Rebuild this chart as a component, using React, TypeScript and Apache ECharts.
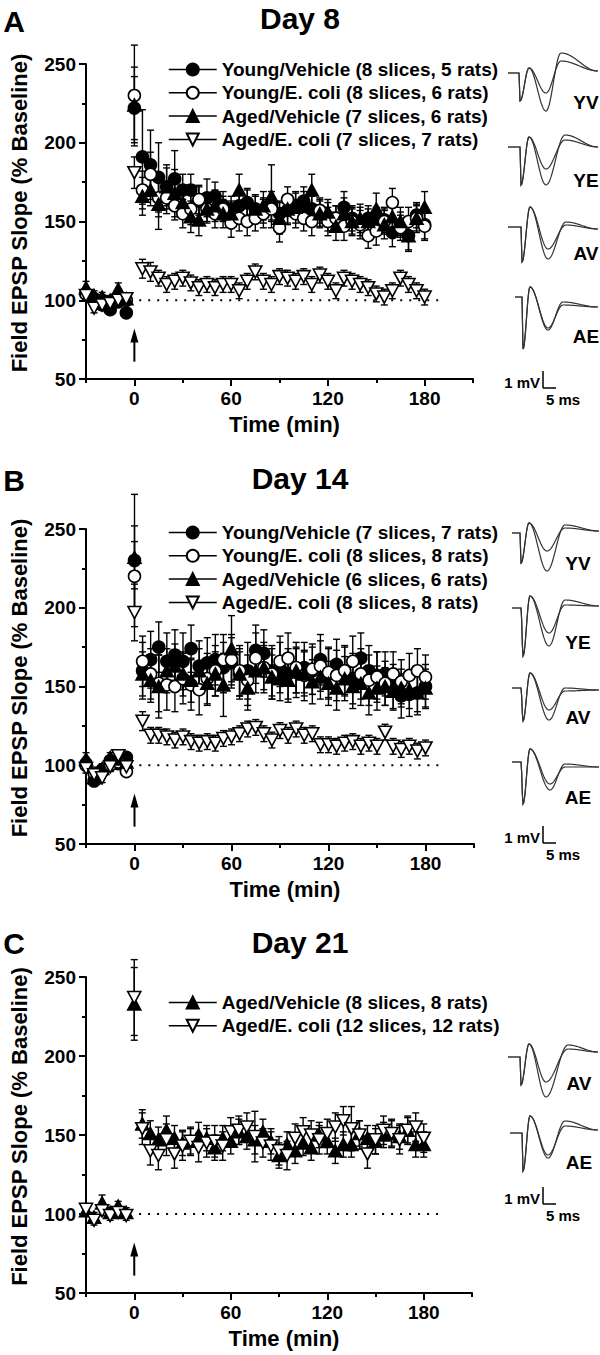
import React, { useEffect, useRef } from "react";
import * as echarts from "echarts";

const FONT = '"Liberation Sans", Arial, Helvetica, sans-serif';

// ---------- DATA ----------
const TIME = [
  -30, -25, -20, -15, -10, -5, 0, 5, 10, 15, 20, 25, 30, 35, 40, 45, 50, 55, 60, 65, 70,
  75, 80, 85, 90, 95, 100, 105, 110, 115, 120, 125, 130, 135, 140, 145, 150, 155, 160,
  165, 170, 175, 180,
];
const X_LABELS = [0, 60, 120, 180];

// Panel A — Day 8
const A_NAMES = [
  "Young/Vehicle (8 slices, 5 rats)",
  "Young/E. coli (8 slices, 6 rats)",
  "Aged/Vehicle (7 slices, 6 rats)",
  "Aged/E. coli (7 slices, 7 rats)",
];
const A_YV = [104, 100, 97, 94, 99, 92, 222,
  191, 186, 178, 172, 177, 170, 170, 163, 165, 166,
  160, 158, 160, 162, 158, 157, 160, 155, 157, 160,
  163, 158, 155, 153, 152, 159, 152, 150, 152, 150,
  151, 143, 148, 141, 154, 148];
const A_YV_SEM = [4, 3, 3, 3, 3, 3, 20,
  30, 22, 22, 14, 18, 10, 10, 9, 12, 9,
  9, 8, 10, 8, 9, 8, 9, 8, 9, 8,
  9, 8, 8, 9, 8, 10, 8, 9, 8, 9,
  8, 9, 8, 9, 8, 9];
const A_YE = [104, 101, 100, 99, 100, 100, 230,
  170, 180, 165, 165, 160, 155, 158, 164, 158, 155,
  158, 149, 152, 150, 152, 155, 158, 146, 164, 155,
  152, 150, 157, 150, 152, 147, 150, 148, 141, 144,
  150, 162, 146, 150, 152, 147];
const A_YE_SEM = [3, 3, 3, 3, 3, 3, 32,
  12, 14, 12, 10, 9, 9, 10, 9, 8, 9,
  8, 9, 8, 9, 8, 9, 8, 9, 8, 9,
  8, 9, 8, 9, 8, 9, 8, 9, 8, 9,
  8, 9, 8, 9, 8, 9];
const A_AV = [108, 103, 102, 100, 107, 101, 224,
  166, 170, 161, 172, 168, 162, 153, 151, 158, 160,
  155, 155, 170, 162, 158, 160, 166, 152, 158, 159,
  160, 170, 155, 156, 147, 155, 150, 152, 150, 158,
  148, 153, 150, 141, 152, 159];
const A_AV_SEM = [4, 3, 3, 3, 4, 3, 24,
  12, 10, 16, 12, 15, 10, 10, 10, 9, 10,
  9, 8, 10, 9, 8, 9, 20, 10, 9, 10,
  9, 10, 9, 8, 9, 10, 9, 9, 8, 10,
  9, 10, 9, 10, 9, 10];
const A_AE = [103, 95, 97, 98, 100, 101, 181,
  120, 118, 114, 110, 112, 114, 111, 108, 110, 108,
  110, 110, 106, 112, 118, 112, 110, 115, 114, 112,
  115, 110, 116, 112, 106, 114, 112, 110, 108, 104,
  102, 106, 114, 110, 106, 102];
const A_AE_SEM = [3, 3, 3, 3, 3, 3, 10,
  6, 6, 5, 5, 5, 5, 5, 5, 5, 5,
  5, 5, 5, 5, 5, 5, 5, 5, 5, 5,
  5, 5, 5, 5, 5, 5, 5, 5, 5, 5,
  5, 5, 5, 5, 5, 5];

// Panel B — Day 14
const B_NAMES = [
  "Young/Vehicle (7 slices, 7 rats)",
  "Young/E. coli (8 slices, 8 rats)",
  "Aged/Vehicle (6 slices, 6 rats)",
  "Aged/E. coli (8 slices, 8 rats)",
];
const B_YV = [101, 90, 97, 103, 101, 105, 230,
  160, 167, 175, 166, 170, 166, 174, 163, 165, 167,
  162, 165, 158, 160, 173, 171, 160, 162, 158, 159,
  162, 160, 167, 158, 164, 160, 155, 168, 160, 157,
  158, 150, 144, 145, 146, 150];
const B_YV_SEM = [4, 3, 3, 3, 3, 3, 42,
  18, 18, 16, 18, 16, 18, 15, 16, 16, 16,
  16, 16, 16, 18, 16, 15, 16, 16, 16, 16,
  16, 15, 16, 16, 16, 15, 16, 16, 16, 15,
  14, 14, 14, 14, 14, 14];
const B_YE = [100, 95, 96, 100, 102, 96, 220,
  166, 158, 152, 151, 150, 155, 151, 148, 155, 160,
  167, 167, 160, 154, 168, 162, 158, 166, 168, 162,
  157, 161, 163, 159, 157, 160, 166, 158, 154, 156,
  152, 158, 153, 157, 160, 156];
const B_YE_SEM = [3, 3, 3, 3, 3, 3, 22,
  16, 16, 18, 16, 16, 16, 16, 16, 16, 16,
  16, 16, 16, 16, 16, 16, 16, 16, 16, 16,
  16, 16, 16, 16, 16, 16, 16, 16, 16, 16,
  14, 14, 14, 14, 14, 14];
const B_AV = [104, 92, 98, 105, 104, 102, 232,
  158, 154, 150, 160, 163, 158, 154, 160, 152, 158,
  151, 174, 158, 149, 160, 162, 156, 155, 154, 160,
  158, 153, 156, 152, 149, 155, 150, 152, 146, 149,
  150, 147, 149, 148, 146, 149];
const B_AV_SEM = [4, 3, 3, 3, 3, 3, 20,
  14, 14, 20, 14, 14, 14, 14, 14, 14, 14,
  20, 21, 14, 14, 14, 14, 14, 14, 14, 14,
  14, 14, 14, 14, 14, 14, 14, 14, 14, 14,
  12, 12, 12, 12, 12, 12];
const B_AE = [98, 94, 92, 99, 106, 99, 197,
  128, 119, 119, 118, 116, 118, 115, 114, 115, 114,
  117, 118, 120, 123, 124, 120, 116, 122, 119, 123,
  119, 120, 113, 113, 112, 114, 115, 112, 114, 112,
  121, 112, 110, 112, 109, 111];
const B_AE_SEM = [3, 3, 3, 3, 3, 3, 18,
  6, 5, 5, 5, 5, 5, 5, 5, 5, 5,
  5, 5, 5, 5, 5, 5, 5, 5, 5, 5,
  5, 5, 5, 5, 5, 5, 5, 5, 5, 5,
  5, 5, 5, 5, 5, 5];

// Panel C — Day 21
const C_NAMES = [
  "Aged/Vehicle (8 slices, 8 rats)",
  "Aged/E. coli (12 slices, 12 rats)",
];
const C_AV = [102, 98, 107, 101, 105, 101, 233,
  157, 151, 147, 153, 148, 145, 146, 150, 148, 142,
  148, 146, 152, 149, 147, 152, 146, 137, 144, 140,
  145, 142, 150, 146, 140, 144, 144, 151, 148, 146,
  150, 151, 149, 153, 144, 144];
const C_AV_SEM = [3, 3, 5, 3, 3, 3, 23,
  9, 8, 8, 9, 8, 8, 8, 8, 8, 8,
  8, 8, 8, 8, 9, 8, 8, 8, 8, 8,
  8, 8, 8, 8, 8, 8, 8, 8, 8, 8,
  8, 8, 8, 8, 8, 8];
const C_AE = [103, 96, 102, 99, 101, 99, 237,
  154, 140, 137, 147, 138, 143, 146, 142, 145, 146,
  143, 152, 153, 155, 149, 145, 143, 140, 137, 148,
  152, 150, 147, 151, 155, 159, 154, 150, 138, 147,
  153, 151, 147, 153, 155, 148];
const C_AE_SEM = [3, 3, 3, 3, 3, 3, 24,
  10, 9, 9, 10, 9, 9, 9, 9, 9, 10,
  9, 9, 9, 9, 16, 9, 9, 9, 9, 9,
  9, 9, 9, 9, 9, 9, 14, 9, 9, 9,
  9, 9, 9, 9, 9, 9];

// annotations (data coordinates)
const BASELINE_LINE = [[3, 100, 190]];
const HFS_ARROW = [[0, 61, 82]];

// ---------- STYLE / LAYOUT ----------
type Kind = "YV" | "YE" | "AV" | "AE";
const MARK: Record<Kind, { symbol: string; size: any; fill: string }> = {
  YV: { symbol: "circle", size: 12, fill: "#000" },
  YE: { symbol: "circle", size: 12, fill: "#fff" },
  AV: { symbol: "triangle", size: [13, 12], fill: "#000" },
  AE: { symbol: "path://M0,0L12,0L6,11Z", size: [13, 12], fill: "#fff" },
};

type Trace = {
  x0: number; y0: number; base: number; spike: number[]; peak: number[];
  trough: number[]; over: number[]; end: number[]; label: string; lx: number; ly: number;
};

const PANELS = [
  {
    letter: "A", letterY: 21, title: "Day 8", titleY: 18,
    grid: { left: 83, top: 64, width: 390, height: 315 },
    legendTop: 55,
    series: [
      { name: A_NAMES[0], kind: "YV" as Kind, mean: A_YV, sem: A_YV_SEM },
      { name: A_NAMES[1], kind: "YE" as Kind, mean: A_YE, sem: A_YE_SEM },
      { name: A_NAMES[2], kind: "AV" as Kind, mean: A_AV, sem: A_AV_SEM },
      { name: A_NAMES[3], kind: "AE" as Kind, mean: A_AE, sem: A_AE_SEM },
    ],
    traces: [
      { x0: 508, y0: 73, base: 11, spike: [12, 28], peak: [21, -5], trough: [38, 20, 38], over: [53, -12, -20], end: [90, -2], label: "YV", lx: 586, ly: 102 },
      { x0: 508, y0: 147, base: 12, spike: [13, 38], peak: [21, -10], trough: [38, 22, 38], over: [57, -7, -12], end: [90, 0], label: "YE", lx: 586, ly: 180 },
      { x0: 508, y0: 227, base: 13, spike: [14, 35], peak: [22, -20], trough: [40, 22, 32], over: [58, -2, -5], end: [90, 2], label: "AV", lx: 586, ly: 253 },
      { x0: 515, y0: 297, base: 7, spike: [8, 52], peak: [15, -10], trough: [33, 31, 33], over: [48, 8, 5], end: [83, 10], label: "AE", lx: 586, ly: 336 },
    ] as Trace[],
    scaleY: 388,
  },
  {
    letter: "B", letterY: 480, title: "Day 14", titleY: 478,
    grid: { left: 84, top: 529, width: 390, height: 315 },
    legendTop: 518,
    series: [
      { name: B_NAMES[0], kind: "YV" as Kind, mean: B_YV, sem: B_YV_SEM },
      { name: B_NAMES[1], kind: "YE" as Kind, mean: B_YE, sem: B_YE_SEM },
      { name: B_NAMES[2], kind: "AV" as Kind, mean: B_AV, sem: B_AV_SEM },
      { name: B_NAMES[3], kind: "AE" as Kind, mean: B_AE, sem: B_AE_SEM },
    ],
    traces: [
      { x0: 512, y0: 533, base: 8, spike: [9, 30], peak: [17, -10], trough: [35, 18, 38], over: [53, -5, -8], end: [87, -2], label: "YV", lx: 578, ly: 563 },
      { x0: 512, y0: 608, base: 9, spike: [11, 48], peak: [18, -12], trough: [37, 25, 38], over: [53, -3, -8], end: [87, -2], label: "YE", lx: 578, ly: 642 },
      { x0: 512, y0: 688, base: 9, spike: [11, 33], peak: [18, -15], trough: [37, 22, 32], over: [53, 3, 0], end: [87, 2], label: "AV", lx: 578, ly: 717 },
      { x0: 512, y0: 762, base: 9, spike: [11, 42], peak: [18, -13], trough: [38, 22, 28], over: [53, 5, 2], end: [87, 5], label: "AE", lx: 578, ly: 797 },
    ] as Trace[],
    scaleY: 843,
  },
  {
    letter: "C", letterY: 943, title: "Day 21", titleY: 942,
    grid: { left: 82, top: 977, width: 390, height: 316 },
    legendTop: 988,
    series: [
      { name: C_NAMES[0], kind: "AV" as Kind, mean: C_AV, sem: C_AV_SEM },
      { name: C_NAMES[1], kind: "AE" as Kind, mean: C_AE, sem: C_AE_SEM },
    ],
    traces: [
      { x0: 508, y0: 1057, base: 12, spike: [13, 28], peak: [21, -13], trough: [38, 25, 40], over: [60, -8, -12], end: [90, -5], label: "AV", lx: 579, ly: 1083 },
      { x0: 510, y0: 1133, base: 12, spike: [13, 38], peak: [20, -17], trough: [38, 22, 25], over: [55, -7, -12], end: [88, -3], label: "AE", lx: 579, ly: 1162 },
    ] as Trace[],
    scaleY: 1204,
  },
];

const textStyleBold = (size: number) => ({
  fontSize: size, fontWeight: "bold" as const, fontFamily: FONT, color: "#000",
});

function wave(x0: number, y0: number, base: number, keys: number[][]): number[][] {
  const pts: number[][] = [[x0, y0], [x0 + base, y0]];
  let prev = [base, 0];
  for (const k of keys) {
    const steps = Math.max(2, Math.round((k[0] - prev[0]) * 1.5));
    for (let s = 1; s <= steps; s++) {
      const f = s / steps;
      const e = (1 - Math.cos(Math.PI * f)) / 2;
      pts.push([x0 + prev[0] + (k[0] - prev[0]) * f, y0 + prev[1] + (k[1] - prev[1]) * e]);
    }
    prev = k;
  }
  return pts;
}

function textEl(text: string, x: number, y: number, size: number, align = "center") {
  return {
    type: "text", x, y, silent: true,
    style: {
      text, fontSize: size, fontWeight: "bold", fontFamily: FONT, fill: "#000",
      align, verticalAlign: "middle", textAlign: align, textVerticalAlign: "middle",
    },
  };
}

function buildOption() {
  const grid: any[] = [];
  const xAxis: any[] = [];
  const yAxis: any[] = [];
  const series: any[] = [];
  const legend: any[] = [];
  const graphic: any[] = [];

  PANELS.forEach((p, i) => {
    grid.push({ ...p.grid, containLabel: false });
    xAxis.push({
      type: "value", gridIndex: i, min: -30, max: 210, interval: 30, position: "bottom",
      axisLine: { show: true, onZero: false, lineStyle: { color: "#000", width: 2 } },
      axisTick: { show: true, length: 4, lineStyle: { color: "#000", width: 2 } },
      axisLabel: {
        margin: 10, ...textStyleBold(19),
        formatter: (v: number) => (X_LABELS.indexOf(v) >= 0 ? String(v) : ""),
      },
      splitLine: { show: false },
      name: "Time (min)", nameLocation: "middle", nameGap: 34,
      nameTextStyle: { ...textStyleBold(22), padding: [0, 0, 0, 10] },
    });
    xAxis.push({
      type: "value", gridIndex: i, min: -30, max: 210, position: "bottom",
      axisLine: { show: false }, axisLabel: { show: false }, splitLine: { show: false },
      axisTick: { show: true, length: 7, customValues: X_LABELS, lineStyle: { color: "#000", width: 2 } },
    });
    yAxis.push({
      type: "value", gridIndex: i, min: 50, max: 250, interval: 50,
      axisLine: { show: true, onZero: false, lineStyle: { color: "#000", width: 2 } },
      axisTick: { show: true, length: 7, lineStyle: { color: "#000", width: 2 } },
      minorTick: { show: true, splitNumber: 2, length: 4, lineStyle: { color: "#000", width: 2 } },
      splitLine: { show: false }, minorSplitLine: { show: false },
      axisLabel: { margin: 10, ...textStyleBold(19) },
      name: "Field EPSP Slope (% Baseline)", nameLocation: "middle", nameGap: 56,
      nameTextStyle: { ...textStyleBold(22), padding: [0, 0, 0, 17] },
    });

    const xi = i * 2;
    // dotted 100% line
    series.push({
      type: "custom", xAxisIndex: xi, yAxisIndex: i, silent: true, clip: false, z: 1,
      data: BASELINE_LINE, encode: { x: [0, 2], y: 1 },
      renderItem: (_: any, api: any) => {
        const a = api.coord([api.value(0), api.value(1)]);
        const b = api.coord([api.value(2), api.value(1)]);
        return {
          type: "line", shape: { x1: a[0], y1: a[1], x2: b[0], y2: b[1] },
          style: { stroke: "#000", lineWidth: 2, lineDash: [2, 7] },
        };
      },
    });
    // HFS arrow
    series.push({
      type: "custom", xAxisIndex: xi, yAxisIndex: i, silent: true, clip: false, z: 1,
      data: HFS_ARROW, encode: { x: 0, y: [1, 2] },
      renderItem: (_: any, api: any) => {
        const a = api.coord([api.value(0), api.value(1)]);
        const b = api.coord([api.value(0), api.value(2)]);
        return {
          type: "group", children: [
            { type: "line", shape: { x1: a[0], y1: a[1], x2: b[0], y2: b[1] + 10 }, style: { stroke: "#000", lineWidth: 2 } },
            { type: "polygon", shape: { points: [[b[0] - 4, b[1] + 14], [b[0] + 4, b[1] + 14], [b[0], b[1]]] }, style: { fill: "#000" } },
          ],
        };
      },
    });

    p.series.forEach((s) => {
      const m = MARK[s.kind];
      series.push({
        type: "custom", xAxisIndex: xi, yAxisIndex: i, silent: true, clip: false, z: 2,
        data: TIME.map((t, k) => [t, s.mean[k] - s.sem[k], s.mean[k] + s.sem[k]]),
        encode: { x: 0, y: [1, 2] },
        renderItem: (_: any, api: any) => {
          const x = api.value(0);
          const lo = api.coord([x, api.value(1)]);
          const hi = api.coord([x, api.value(2)]);
          const w = 3.5;
          const st = { stroke: "#000", lineWidth: 1.4 };
          return {
            type: "group", children: [
              { type: "line", shape: { x1: hi[0], y1: hi[1], x2: lo[0], y2: lo[1] }, style: st },
              { type: "line", shape: { x1: hi[0] - w, y1: hi[1], x2: hi[0] + w, y2: hi[1] }, style: st },
              { type: "line", shape: { x1: lo[0] - w, y1: lo[1], x2: lo[0] + w, y2: lo[1] }, style: st },
            ],
          };
        },
      });
      series.push({
        type: "line", name: s.name, xAxisIndex: xi, yAxisIndex: i, silent: true, clip: false, z: 3,
        data: TIME.map((t, k) => [t, s.mean[k]]),
        symbol: m.symbol, symbolSize: m.size, showSymbol: true, showAllSymbol: true,
        lineStyle: { opacity: 0, width: 0 },
        itemStyle: { color: m.fill, borderColor: "#000", borderWidth: 1.6, opacity: 1 },
      });
    });

    legend.push({
      orient: "vertical", left: 163, top: p.legendTop, itemWidth: 48, itemHeight: 15, itemGap: 4.3,
      selectedMode: false, data: p.series.map((s) => s.name),
      textStyle: { ...textStyleBold(19), lineHeight: 19 },
      lineStyle: { color: "#000", width: 1.5, opacity: 1 },
    });

    // titles
    graphic.push(textEl(p.letter, 14, p.letterY, 30));
    graphic.push(textEl(p.title, 300, p.titleY, 30));

    // EPSP traces
    p.traces.forEach((t) => {
      [1, 2].forEach((v) => {
        const pts = wave(t.x0, t.y0, t.base, [
          t.spike, t.peak, [t.trough[0], t.trough[v]], [t.over[0], t.over[v]], t.end,
        ]);
        graphic.push({
          type: "polyline", silent: true, shape: { points: pts },
          style: { stroke: "#333", lineWidth: 1.2, fill: null },
        });
      });
      graphic.push(textEl(t.label, t.lx, t.ly, 19));
    });
    // scale bar
    const sy = p.scaleY;
    graphic.push({ type: "line", silent: true, shape: { x1: 543, y1: sy - 17, x2: 543, y2: sy }, style: { stroke: "#000", lineWidth: 1.5 } });
    graphic.push({ type: "line", silent: true, shape: { x1: 543, y1: sy, x2: 556, y2: sy }, style: { stroke: "#000", lineWidth: 1.5 } });
    graphic.push(textEl("1 mV", 540, sy - 6, 15, "right"));
    graphic.push(textEl("5 ms", 563, sy + 11, 15));
  });

  return {
    animation: false,
    backgroundColor: "#fff",
    grid, xAxis, yAxis, series, legend, graphic,
  };
}

export default function App() {
  const ref = useRef<HTMLDivElement>(null);
  useEffect(() => {
    if (!ref.current) return;
    const chart = echarts.init(ref.current, undefined, { renderer: "svg" });
    chart.setOption(buildOption() as any);
    return () => chart.dispose();
  }, []);
  return (
    <div
      ref={ref}
      style={{ position: "absolute", left: 0, top: 0, width: 600, height: 1355, background: "#fff" }}
    />
  );
}
